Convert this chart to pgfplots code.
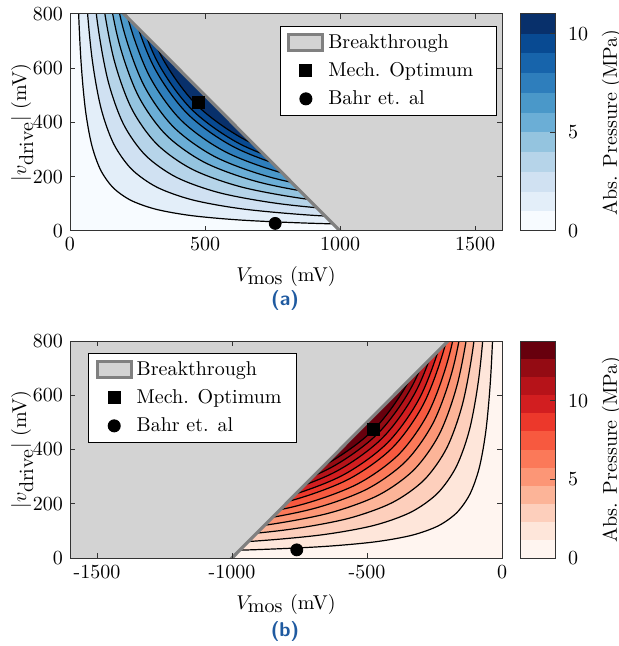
\documentclass[border=0pt]{standalone}
\usepackage{pgfplots}
\usepackage{pgfplotstable}
\pgfplotsset{compat=1.18}

% blues, lightest to darkest (11 bands)
\definecolor{bA}{RGB}{247,251,255}
\definecolor{bB}{RGB}{227,238,249}
\definecolor{bC}{RGB}{208,225,242}
\definecolor{bD}{RGB}{182,212,233}
\definecolor{bE}{RGB}{148,196,223}
\definecolor{bF}{RGB}{107,174,214}
\definecolor{bG}{RGB}{74,152,201}
\definecolor{bH}{RGB}{46,126,188}
\definecolor{bI}{RGB}{23,100,171}
\definecolor{bJ}{RGB}{8,74,146}
\definecolor{bK}{RGB}{8,48,107}
% reds, lightest to darkest (12 bands)
\definecolor{rA}{RGB}{255,245,240}
\definecolor{rB}{RGB}{254,230,218}
\definecolor{rC}{RGB}{253,207,188}
\definecolor{rD}{RGB}{252,180,152}
\definecolor{rE}{RGB}{252,150,118}
\definecolor{rF}{RGB}{251,121,89}
\definecolor{rG}{RGB}{247,89,63}
\definecolor{rH}{RGB}{236,56,43}
\definecolor{rI}{RGB}{210,30,32}
\definecolor{rJ}{RGB}{182,19,25}
\definecolor{rK}{RGB}{148,11,19}
\definecolor{rL}{RGB}{103,0,13}
\definecolor{bgray}{RGB}{211,211,211}
\definecolor{lgray}{RGB}{128,128,128}
\definecolor{capblue}{RGB}{31,90,160}

% ---- contour lines, panel (a) ----
\pgfplotstableread{
V v
0 1277.6
19.96 1277.6
28.23 903.4
39.93 638.8
56.46 451.7
79.85 319.4
112.9 225.8
159.7 159.7
225.8 112.9
319.4 79.85
451.7 56.46
638.8 39.93
903.4 28.23
1277.6 19.96
1806.8 14.12
}\caA
\pgfplotstableread{
V v
0 1289.8
40.31 1289.8
57.0 912
80.61 644.9
114 456
161.2 322.4
228 228
322.4 161.2
456 114
644.9 80.61
912 57
1289.8 40.31
1824 28.5
}\caB
\pgfplotstableread{
V v
0 1580
49.37 1580
69.83 1117.2
98.75 790
139.65 558.6
197.5 395
279.3 279.3
395 197.5
558.6 139.65
790 98.75
1117.2 69.83
1580 49.37
2234.4 34.91
}\caC
\pgfplotstableread{
V v
0 1283.6
80.23 1283.6
113.46 907.6
160.45 641.8
226.9 453.8
320.9 320.9
453.8 226.9
641.8 160.45
907.6 113.46
1283.6 80.23
1815.3 56.73
}\caD
\pgfplotstableread{
V v
0 1420
88.75 1420
125.5 1004.1
177.5 710
251 502
355 355
502 251
710 177.5
1004.1 125.5
1420 88.75
2008.2 62.76
}\caE
\pgfplotstableread{
V v
0 1533.6
95.85 1533.6
135.55 1084.4
191.7 766.8
271.1 542.2
383.4 383.4
542.2 271.1
766.8 191.7
1084.4 135.55
1533.6 95.85
2168.8 67.78
}\caF
\pgfplotstableread{
V v
0 1639.6
102.48 1639.6
144.92 1159.4
204.95 819.8
289.8 579.7
409.9 409.9
579.7 289.8
819.8 204.95
1159.4 144.92
1639.6 102.48
}\caG
\pgfplotstableread{
V v
0 1734.4
108.4 1734.4
153.3 1226.4
216.8 867.2
306.6 613.2
433.6 433.6
613.2 306.6
867.2 216.8
1226.4 153.3
1734.4 108.4
}\caH
\pgfplotstableread{
V v
0 1797.6
112.35 1797.6
158.89 1271.1
224.7 898.8
317.8 635.6
449.4 449.4
635.6 317.8
898.8 224.7
1271.1 158.89
1797.6 112.35
}\caI
\pgfplotstableread{
V v
0 1867.6
116.73 1867.6
165.07 1320.6
233.45 933.8
330.15 660.3
466.9 466.9
660.3 330.15
933.8 233.45
1320.6 165.07
1867.6 116.73
}\caJ

% ---- contour lines, panel (b) ----
\pgfplotstableread{
V v
0 1338.4
-20.91 1338.4
-29.58 946.4
-41.83 669.2
-59.15 473.2
-83.65 334.6
-118.3 236.6
-167.3 167.3
-236.6 118.3
-334.6 83.65
-473.2 59.15
-669.2 41.83
-946.4 29.58
-1338.4 20.91
-1892.8 14.79
}\cbA
\pgfplotstableread{
V v
0 1350.3
-42.2 1350.3
-59.68 954.8
-84.39 675.1
-119.35 477.4
-168.8 337.6
-238.7 238.7
-337.6 168.8
-477.4 119.35
-675.1 84.39
-954.8 59.68
-1350.3 42.2
-1909.6 29.84
}\cbB
\pgfplotstableread{
V v
0 1629.8
-50.93 1629.8
-72.03 1152.4
-101.86 814.9
-144.05 576.2
-203.7 407.4
-288.1 288.1
-407.4 203.7
-576.2 144.05
-814.9 101.86
-1152.4 72.03
-1629.8 50.93
}\cbC
\pgfplotstableread{
V v
0 1302.4
-81.4 1302.4
-115.11 920.9
-162.8 651.2
-230.2 460.5
-325.6 325.6
-460.5 230.2
-651.2 162.8
-920.9 115.11
-1302.4 81.4
-1841.9 57.56
}\cbD
\pgfplotstableread{
V v
0 1425.6
-89.1 1425.6
-126 1008.1
-178.2 712.8
-252 504
-356.4 356.4
-504 252
-712.8 178.2
-1008.1 126
-1425.6 89.1
-2016.1 63
}\cbE
\pgfplotstableread{
V v
0 1528.4
-95.53 1528.4
-135.09 1080.7
-191.05 764.2
-270.2 540.4
-382.1 382.1
-540.4 270.2
-764.2 191.05
-1080.7 135.09
-1528.4 95.53
-2161.5 67.55
}\cbF
\pgfplotstableread{
V v
0 1624.8
-101.55 1624.8
-143.61 1148.9
-203.1 812.4
-287.2 574.5
-406.2 406.2
-574.5 287.2
-812.4 203.1
-1148.9 143.61
-1624.8 101.55
}\cbG
\pgfplotstableread{
V v
0 1697
-106.07 1697
-150 1200
-212.1 848.5
-300 600
-424.3 424.3
-600 300
-848.5 212.1
-1200 150
-1697 106.07
}\cbH
\pgfplotstableread{
V v
0 1770.9
-110.68 1770.9
-156.53 1252.2
-221.36 885.4
-313.05 626.1
-442.7 442.7
-626.1 313.05
-885.4 221.36
-1252.2 156.53
-1770.9 110.68
}\cbI
\pgfplotstableread{
V v
0 1837.4
-114.84 1837.4
-162.4 1299.2
-229.7 918.7
-324.8 649.6
-459.35 459.35
-649.6 324.8
-918.7 229.7
-1299.2 162.4
-1837.4 114.84
}\cbJ
\pgfplotstableread{
V v
0 1897.4
-118.59 1897.4
-167.7 1341.6
-237.17 948.7
-335.4 670.8
-474.3 474.3
-670.8 335.4
-948.7 237.17
-1341.6 167.7
-1897.4 118.59
}\cbK

\pgfplotsset{
  mainax/.style={
    scale only axis, width=216pt, height=108.5pt,
    ymin=0, ymax=800, ytick={0,200,400,600,800},
    /pgf/number format/1000 sep={},
    axis on top, tick align=inside, major tick length=2.5pt,
    axis line style={line width=0.5pt, black!80},
    every tick/.style={line width=0.5pt, black!80},
    xlabel={$V_{\textstyle\mathrm{mos}}$ (mV)},
    ylabel={$|v_{\textstyle\mathrm{drive}}|$ (mV)},
    ylabel shift=-7pt, xlabel shift=1pt,
    legend cell align=left,
    legend style={draw=black, line width=0.5pt, fill=white, inner xsep=3.5pt, inner ysep=2pt, row sep=1.5pt},
  },
  cbax/.style={
    scale only axis, width=17.5pt, height=108.5pt,
    xmin=0, xmax=1, ymin=0, xtick=\empty, ytick={0,5,10},
    ytick pos=right, yticklabel pos=right, tick align=inside,
    major tick length=2.5pt, axis on top,
    axis line style={line width=0.5pt, black!80},
    every tick/.style={line width=0.5pt, black!80},
    yticklabel style={xshift=3pt},
    ylabel near ticks, ylabel={Abs. Pressure (MPa)},
  },
  cfill/.style={fill=#1, draw=none, smooth, forget plot},
  cline/.style={black, line width=0.6pt, smooth, forget plot},
  btimg/.style={legend image code/.code={\draw[fill=bgray, draw=lgray, line width=1.5pt] (0pt,-4pt) rectangle (17pt,4pt);}},
}

\begin{document}
\begin{tikzpicture}
% ---- panel (a) ----
\begin{axis}[mainax, name=pa, at={(0,0)}, anchor=south west,
  xmin=0, xmax=1600, xtick={0,500,1000,1500},
  axis background/.style={fill=bK},
  legend style={at={(rel axis cs:0.988,0.945)}, anchor=north east}]
\addplot[cfill=bJ] table[x=V,y=v] {\caJ} \closedcycle;
\addplot[cfill=bI] table[x=V,y=v] {\caI} \closedcycle;
\addplot[cfill=bH] table[x=V,y=v] {\caH} \closedcycle;
\addplot[cfill=bG] table[x=V,y=v] {\caG} \closedcycle;
\addplot[cfill=bF] table[x=V,y=v] {\caF} \closedcycle;
\addplot[cfill=bE] table[x=V,y=v] {\caE} \closedcycle;
\addplot[cfill=bD] table[x=V,y=v] {\caD} \closedcycle;
\addplot[cfill=bC] table[x=V,y=v] {\caC} \closedcycle;
\addplot[cfill=bB] table[x=V,y=v] {\caB} \closedcycle;
\addplot[cfill=bA] table[x=V,y=v] {\caA} \closedcycle;
\addplot[cline] table[x=V,y=v] {\caA};
\addplot[cline] table[x=V,y=v] {\caB};
\addplot[cline] table[x=V,y=v] {\caC};
\addplot[cline] table[x=V,y=v] {\caD};
\addplot[cline] table[x=V,y=v] {\caE};
\addplot[cline] table[x=V,y=v] {\caF};
\addplot[cline] table[x=V,y=v] {\caG};
\addplot[cline] table[x=V,y=v] {\caH};
\addplot[cline] table[x=V,y=v] {\caI};
\addplot[cline] table[x=V,y=v] {\caJ};
% breakthrough region
\addplot[fill=bgray, draw=none, forget plot] coordinates {(1010,-10)(190,810)(1700,810)(1700,-10)} -- cycle;
\addplot[draw=lgray, line width=1.6pt, forget plot] coordinates {(1010,-10)(190,810)};
\addlegendimage{btimg}
\addlegendentry{Breakthrough}
\addplot[only marks, mark=square*, mark size=3pt, black] coordinates {(475,473)};
\addlegendentry{Mech. Optimum\hspace*{6pt}}
\addplot[only marks, mark=*, mark size=3pt, black] coordinates {(760,28)};
\addlegendentry{Bahr et. al}
\end{axis}

% ---- colorbar (a) ----
\begin{axis}[cbax, at={(225pt,0)}, anchor=south west, ymax=11]
\addplot[fill=bA, draw=none] coordinates {(0,0)(1,0)(1,1)(0,1)} -- cycle;
\addplot[fill=bB, draw=none] coordinates {(0,1)(1,1)(1,2)(0,2)} -- cycle;
\addplot[fill=bC, draw=none] coordinates {(0,2)(1,2)(1,3)(0,3)} -- cycle;
\addplot[fill=bD, draw=none] coordinates {(0,3)(1,3)(1,4)(0,4)} -- cycle;
\addplot[fill=bE, draw=none] coordinates {(0,4)(1,4)(1,5)(0,5)} -- cycle;
\addplot[fill=bF, draw=none] coordinates {(0,5)(1,5)(1,6)(0,6)} -- cycle;
\addplot[fill=bG, draw=none] coordinates {(0,6)(1,6)(1,7)(0,7)} -- cycle;
\addplot[fill=bH, draw=none] coordinates {(0,7)(1,7)(1,8)(0,8)} -- cycle;
\addplot[fill=bI, draw=none] coordinates {(0,8)(1,8)(1,9)(0,9)} -- cycle;
\addplot[fill=bJ, draw=none] coordinates {(0,9)(1,9)(1,10)(0,10)} -- cycle;
\addplot[fill=bK, draw=none] coordinates {(0,10)(1,10)(1,11)(0,11)} -- cycle;
\end{axis}

% ---- panel (b) ----
\begin{axis}[mainax, name=pb, at={(0,-163.5pt)}, anchor=south west,
  xmin=-1600, xmax=0, xtick={-1500,-1000,-500,0},
  xticklabels={-1500,-1000,-500,0},
  axis background/.style={fill=rL},
  legend style={at={(rel axis cs:0.042,0.945)}, anchor=north west}]
\addplot[cfill=rK] table[x=V,y=v] {\cbK} \closedcycle;
\addplot[cfill=rJ] table[x=V,y=v] {\cbJ} \closedcycle;
\addplot[cfill=rI] table[x=V,y=v] {\cbI} \closedcycle;
\addplot[cfill=rH] table[x=V,y=v] {\cbH} \closedcycle;
\addplot[cfill=rG] table[x=V,y=v] {\cbG} \closedcycle;
\addplot[cfill=rF] table[x=V,y=v] {\cbF} \closedcycle;
\addplot[cfill=rE] table[x=V,y=v] {\cbE} \closedcycle;
\addplot[cfill=rD] table[x=V,y=v] {\cbD} \closedcycle;
\addplot[cfill=rC] table[x=V,y=v] {\cbC} \closedcycle;
\addplot[cfill=rB] table[x=V,y=v] {\cbB} \closedcycle;
\addplot[cfill=rA] table[x=V,y=v] {\cbA} \closedcycle;
\addplot[cline] table[x=V,y=v] {\cbA};
\addplot[cline] table[x=V,y=v] {\cbB};
\addplot[cline] table[x=V,y=v] {\cbC};
\addplot[cline] table[x=V,y=v] {\cbD};
\addplot[cline] table[x=V,y=v] {\cbE};
\addplot[cline] table[x=V,y=v] {\cbF};
\addplot[cline] table[x=V,y=v] {\cbG};
\addplot[cline] table[x=V,y=v] {\cbH};
\addplot[cline] table[x=V,y=v] {\cbI};
\addplot[cline] table[x=V,y=v] {\cbJ};
\addplot[cline] table[x=V,y=v] {\cbK};
\addplot[fill=bgray, draw=none, forget plot] coordinates {(-1010,-10)(-190,810)(-1700,810)(-1700,-10)} -- cycle;
\addplot[draw=lgray, line width=1.6pt, forget plot] coordinates {(-1010,-10)(-190,810)};
\addlegendimage{btimg}
\addlegendentry{Breakthrough}
\addplot[only marks, mark=square*, mark size=3pt, black] coordinates {(-477,475)};
\addlegendentry{Mech. Optimum\hspace*{2pt}}
\addplot[only marks, mark=*, mark size=3pt, black] coordinates {(-760,30)};
\addlegendentry{Bahr et. al}
\end{axis}

% ---- colorbar (b) ----
\begin{axis}[cbax, at={(225pt,-163.5pt)}, anchor=south west, ymax=13.8]
\addplot[fill=rA, draw=none] coordinates {(0,0)(1,0)(1,1.15)(0,1.15)} -- cycle;
\addplot[fill=rB, draw=none] coordinates {(0,1.15)(1,1.15)(1,2.3)(0,2.3)} -- cycle;
\addplot[fill=rC, draw=none] coordinates {(0,2.3)(1,2.3)(1,3.45)(0,3.45)} -- cycle;
\addplot[fill=rD, draw=none] coordinates {(0,3.45)(1,3.45)(1,4.6)(0,4.6)} -- cycle;
\addplot[fill=rE, draw=none] coordinates {(0,4.6)(1,4.6)(1,5.75)(0,5.75)} -- cycle;
\addplot[fill=rF, draw=none] coordinates {(0,5.75)(1,5.75)(1,6.9)(0,6.9)} -- cycle;
\addplot[fill=rG, draw=none] coordinates {(0,6.9)(1,6.9)(1,8.05)(0,8.05)} -- cycle;
\addplot[fill=rH, draw=none] coordinates {(0,8.05)(1,8.05)(1,9.2)(0,9.2)} -- cycle;
\addplot[fill=rI, draw=none] coordinates {(0,9.2)(1,9.2)(1,10.35)(0,10.35)} -- cycle;
\addplot[fill=rJ, draw=none] coordinates {(0,10.35)(1,10.35)(1,11.5)(0,11.5)} -- cycle;
\addplot[fill=rK, draw=none] coordinates {(0,11.5)(1,11.5)(1,12.65)(0,12.65)} -- cycle;
\addplot[fill=rL, draw=none] coordinates {(0,12.65)(1,12.65)(1,13.8)(0,13.8)} -- cycle;
\end{axis}

\node[font=\sffamily\bfseries, text=capblue] at (107.5pt,-35pt) {(a)};
\node[font=\sffamily\bfseries, text=capblue] at (107.5pt,-200pt) {(b)};

\pgfresetboundingbox
\path[use as bounding box] (-35pt,-207.5pt) rectangle (274.5pt,115.5pt);
\end{tikzpicture}
\end{document}
